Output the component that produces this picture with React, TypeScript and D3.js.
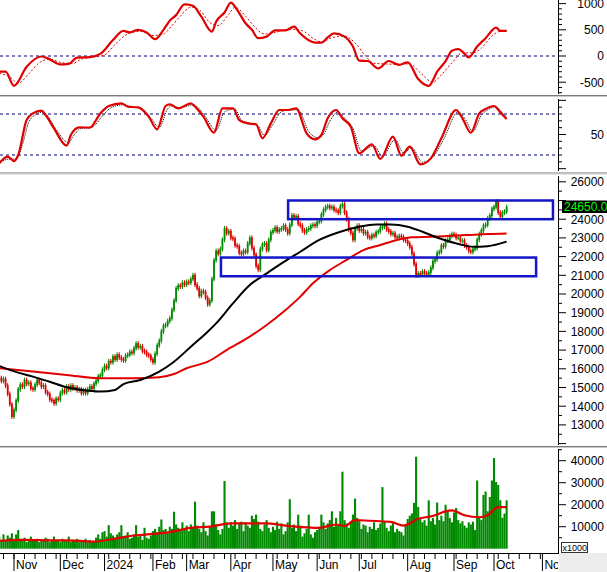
import React from "react";
import * as d3 from "d3";

// ---------- DATA ----------
// daily closes (bar index 0 = late Oct 2023)
const closes = [
  15500,15350,15450,15100,14650,14100,13450,13800,14300,14900,
  15150,15050,15400,15200,15250,14950,14900,15150,15400,15250,
  15050,15100,14750,14650,14350,14300,14150,14400,14350,14700,
  14850,14750,15050,14900,15100,14950,15000,14850,14900,14700,
  14850,14700,14900,15050,14950,15200,15350,15600,15650,15950,
  16150,16050,16400,16350,16650,16500,16750,16600,16500,16450,
  16700,16750,16900,16850,17100,17350,17150,17200,16950,16900,
  16750,16700,16500,16350,16800,17250,17500,18000,18300,18350,
  18550,18700,19150,19650,20300,20450,20400,20600,20500,20650,
  20600,20800,21000,20500,20300,19900,20150,20100,19800,19450,
  19650,20800,21800,22300,22150,22400,22900,23500,23250,23350,
  23000,22950,22600,22550,22200,22150,22300,22250,22700,23000,
  22450,22100,21500,21300,22400,22650,22700,22350,22900,23300,
  23400,23550,23350,23450,23500,23650,23450,23250,23700,24200,
  24100,24150,23750,23650,23400,23300,23450,23500,23650,23700,
  23650,23850,23900,24250,24500,24650,24700,24600,24650,24500,
  24450,24350,24700,24800,24350,24000,23450,23250,22900,23500,
  23650,23400,23450,23250,23300,23050,23000,23150,23100,23300,
  23350,23550,23600,23750,23450,23350,23200,23250,23050,23000,
  23100,23050,22900,22850,22700,22500,22150,21600,21000,21100,
  21050,21200,21100,21050,21150,21400,21750,21850,22200,22250,
  22600,22550,22850,22900,23100,23200,23150,23000,23000,22850,
  22850,22600,22500,22300,22250,22400,22450,22900,23200,23400,
  23650,23700,24050,24200,24550,24650,24950,24350,24150,24350,
  24400,24650,
];

const volumes = [
  5500,4000,6500,3500,6000,5000,7000,4500,6500,8500,
  4500,3500,5000,3000,4000,5500,3500,4000,4500,3000,
  4000,3500,5000,4500,3000,4000,5500,3500,4000,3000,
  4500,3500,4000,5500,3000,4000,3500,4500,3000,4000,
  3500,4500,3000,4000,3500,3000,5000,6500,4500,7500,
  8000,5500,10700,7000,6000,5000,6500,7500,10700,5500,
  6000,7500,4500,5000,6500,10700,5500,6000,4000,9500,
  5000,4500,6000,8000,9000,7500,10000,13300,8500,9000,
  7500,10000,9000,16800,11000,9500,8500,12000,9000,10500,
  8000,11000,9500,21400,10500,9000,7500,12000,8000,6000,
  10000,17000,17000,11000,8500,6500,9000,30800,12000,9500,
  12000,10500,13000,9000,11500,12300,8000,12000,10500,9500,
  15000,13500,15500,12300,9000,8000,11000,13000,9500,7500,
  10000,8500,12300,9000,11500,6500,8000,12000,22500,9500,
  11000,8000,15500,10500,5500,7000,9000,15500,6500,5000,
  7500,8500,10000,15500,12000,9000,11500,13000,17000,10000,
  14000,10500,17000,35000,13000,11500,9500,12000,15500,22800,
  14000,12500,9000,11000,10500,7500,10000,9000,12000,8500,
  9500,11500,28000,12500,9500,8000,10500,12000,7500,9000,
  8000,7500,6000,11000,13500,15000,16000,20800,41800,19000,
  14000,12000,13000,10500,22000,12500,14000,11000,21000,13000,
  15000,12500,20000,17000,14000,12000,16500,18500,13000,11500,
  12500,10500,9500,12000,11000,12300,8500,31000,14500,13000,
  24400,26000,17000,23500,31000,41200,30300,29000,22000,14000,
  16000,22000,
];

// [bar index, value]
const maBlack = [
  [0,16150],[6,15900],[16,15580],[24,15310],[32,15010],[42,14830],[48,14780],[55,14870],
  [59,15180],[67,15400],[76,15850],[83,16380],[91,17180],[99,17980],[103,18430],[111,19500],
  [119,20480],[127,21100],[135,21700],[143,22260],[152,22890],[162,23330],[171,23600],
  [179,23720],[186,23720],[194,23600],[201,23330],[209,22980],[219,22650],[225,22530],
  [232,22560],[241,22800],
];
const maRed = [
  [0,16030],[16,15850],[32,15670],[48,15490],[64,15490],[76,15550],[83,15720],[89,16030],
  [99,16380],[108,17000],[119,17720],[127,18340],[135,19050],[143,19860],[149,20570],
  [157,21280],[165,21820],[173,22350],[181,22620],[189,22890],[196,23030],[205,23060],
  [213,23100],[222,23150],[232,23210],[241,23240],
];
const volMA = [
  [0,3600],[12,4000],[24,3800],[36,3700],[45,3200],[55,4600],[64,6000],[73,6700],[81,7500],
  [91,9500],[100,10000],[110,11500],[118,11500],[126,11500],[138,10300],[152,9500],
  [160,11000],[164,10300],[169,13000],[176,12700],[186,12200],[192,10500],[199,13600],
  [205,14700],[215,17400],[221,15200],[228,14300],[232,15200],[237,18900],[241,18900],
];
const macd = [
  [0,-300],[3,-300],[7,-570],[13,-205],[20,-10],[23,-45],[29,-160],[33,-150],[37,-30],
  [43,-20],[48,40],[54,305],[59,480],[62,450],[66,500],[70,450],[74,320],[78,500],[81,675],
  [84,780],[88,985],[92,960],[96,750],[101,465],[103,655],[107,830],[110,1020],[113,880],
  [117,625],[120,500],[123,340],[127,370],[131,490],[136,490],[140,560],[143,430],[147,300],
  [150,255],[153,255],[156,355],[159,430],[164,370],[168,180],[171,-90],[175,-95],[180,-235],
  [185,-95],[190,-170],[194,-120],[199,-440],[204,-570],[208,-300],[212,-100],[215,100],
  [218,130],[220,85],[223,-25],[227,180],[231,340],[236,540],[238,480],[241,480],
];
const macdSignal = [
  [0,-330],[5,-400],[9,-520],[14,-340],[19,-130],[24,-60],[30,-130],[35,-140],[39,-60],
  [45,-20],[50,20],[55,220],[61,420],[67,470],[73,390],[78,420],[82,580],[86,760],[91,930],
  [95,880],[100,640],[104,580],[109,800],[112,930],[117,760],[121,570],[126,420],[131,450],
  [138,510],[144,480],[149,340],[153,270],[158,350],[164,380],[169,250],[174,0],[178,-140],
  [183,-150],[189,-160],[195,-150],[200,-320],[206,-500],[210,-360],[215,-130],[220,60],
  [225,60],[229,150],[234,380],[238,470],[241,470],
];
const rsi = [
  [0,21.9],[4,28.4],[7,24.1],[9,30],[13,64.1],[16,70.6],[20,73.3],[22,69],[26,56],[32,39.1],
  [34,49.5],[38,57],[43,56.7],[48,70.6],[52,77.8],[58,80.4],[61,77.2],[66,76.5],[71,67.4],
  [75,55],[79,77.8],[81,79.4],[85,75.5],[91,80.4],[93,77.2],[97,67.4],[102,51.8],[106,75.5],
  [111,75.5],[114,64.1],[118,60.9],[122,60],[125,46.3],[129,60.9],[133,73.9],[137,73.9],
  [141,75.5],[146,51.1],[150,45.3],[153,49.5],[156,65.8],[160,73.9],[163,65.8],[167,57.6],
  [171,31.6],[177,40.4],[181,26.1],[187,47.9],[191,29.4],[195,38.1],[200,20.9],[205,26.7],
  [210,46.3],[217,73.9],[220,65.8],[224,51.8],[228,70.6],[231,74.9],[235,77.8],[238,71.6],
  [241,65.1],
];
const rsiSignal = [
  [0,23],[5,26],[8,26],[11,40],[14,62],[17,69],[21,72],[23,68],[27,55],[33,42],[35,48],
  [39,56],[44,57],[49,68],[53,76],[59,79],[62,77],[67,76],[72,66],[76,57],[80,75],[82,78],
  [86,76],[92,79],[94,77],[98,67],[103,54],[107,72],[112,75],[115,64],[119,61],[123,58],
  [126,49],[130,60],[134,72],[138,74],[142,74],[147,53],[151,47],[154,50],[157,63],[161,72],
  [164,66],[168,56],[172,34],[178,39],[182,29],[188,45],[192,32],[196,37],[201,23],[206,28],
  [211,45],[218,72],[221,66],[225,53],[229,69],[232,74],[236,77],[239,71],[241,67],
];

// support / resistance zones: [start bar, end bar, top price, bottom price]
const zones = [
  [137.2, 263, 25000, 24000],
  [105.3, 255, 21950, 20950],
];

const monthNames = ["Nov","Dec","2024","Feb","Mar","Apr","May","Jun","Jul","Aug","Sep","Oct","Nov"];
const monthDays = [22,21,23,16,21,20,21,20,23,22,19,23,22];
const firstMonthBar = 7;
const lastPriceLabel = "24650.00";

const macdTicks = [1000, 500, 0, -500];
// 25000 sits behind the last-price box, as in the reference
const priceTicks = [13000,14000,15000,16000,17000,18000,19000,20000,21000,22000,23000,24000,26000];
const volTicks = [10000, 20000, 30000, 40000];

// ---------- CHART ----------
const W = 607, H = 572, AX = 558;
const GREEN = "#008a00", RED = "#e00000", NAVY = "#000080";
const FONT = "'Liberation Sans', Arial, sans-serif";

export default function App() {
  const x = d3.scaleLinear().domain([7, 235]).range([14, 494]);
  const yM = d3.scaleLinear().domain([0, 500]).range([56, 29.8]);
  const yR = d3.scaleLinear().domain([50, 70]).range([134.5, 114]);
  const yP = d3.scaleLinear().domain([20000, 26000]).range([294, 181.8]);
  const yV = d3.scaleLinear().domain([0, 40000]).range([548.7, 460.7]);

  const lineOf = (ys: any, smooth = false) =>
    d3.line<number[]>().x((d) => x(d[0])).y((d) => ys(d[1])).curve(smooth ? d3.curveMonotoneX : d3.curveLinear);

  const monthStarts: number[] = [];
  let acc = firstMonthBar;
  monthDays.forEach((d) => { monthStarts.push(acc); acc += d; });
  const weekTicks: number[] = d3.range(2, 262, 5);

  const sep = (y: number, k: string) => (
    <g key={k}>
      <line x1={0} x2={W} y1={y + 0.5} y2={y + 0.5} stroke="#7a7a7a" strokeWidth={1} />
      <line x1={0} x2={W} y1={y + 1.5} y2={y + 1.5} stroke="#c8c8c8" strokeWidth={1} />
    </g>
  );

  const tick = (y: number, major: boolean, k: string) => (
    <line key={k} x1={AX} x2={AX + (major ? 8 : 4)} y1={y} y2={y} stroke="#000" strokeWidth={1} />
  );
  const label = (y: number, t: string, k: string) => (
    <text key={k} x={604} y={y} dy="0.36em" textAnchor="end" fontSize={12} fontFamily={FONT} fill="#000">{t}</text>
  );

  const macdMinor = d3.range(-700, 1001, 100);
  const rsiMinor = d3.range(0, 13).map((k) => 10 + k * (20 / 3)).filter((v) => yR(v) >= 98 && yR(v) <= 171);
  const isRsiMajor = (v: number) => {
    const r = Math.abs(v - 50) / (100 / 3);
    return Math.abs(r - Math.round(r)) < 0.01;
  };
  const priceMinor = d3.range(12000, 26001, 500);
  const volMinor = d3.range(5000, 45001, 5000);

  return (
    <svg width={W} height={H} style={{ position: "absolute", left: 0, top: 0, background: "#fff" }}>
      <defs>
        <clipPath id="c1"><rect x={0} y={0} width={AX} height={95} /></clipPath>
        <clipPath id="c2"><rect x={0} y={97} width={AX} height={75} /></clipPath>
        <clipPath id="c3"><rect x={0} y={175} width={AX} height={271} /></clipPath>
        <clipPath id="c4"><rect x={0} y={448} width={AX} height={105} /></clipPath>
        <clipPath id="cx"><rect x={0} y={553} width={AX} height={19} /></clipPath>
      </defs>
      <rect x={0} y={0} width={W} height={H} fill="#fff" />

      {/* Panel 1: oscillator */}
      <g clipPath="url(#c1)">
        <line x1={0} x2={AX} y1={yM(0)} y2={yM(0)} stroke={NAVY} strokeDasharray="3,3" strokeWidth={1} />
        <path d={lineOf(yM, true)(macdSignal as any) || ""} fill="none" stroke={RED} strokeWidth={1} strokeDasharray="2,2" />
        <path d={lineOf(yM, true)(macd as any) || ""} fill="none" stroke={RED} strokeWidth={2.2} strokeLinejoin="round" />
      </g>

      {/* Panel 2: RSI */}
      <g clipPath="url(#c2)">
        <line x1={0} x2={AX} y1={yR(70)} y2={yR(70)} stroke={NAVY} strokeDasharray="3,3" strokeWidth={1} />
        <line x1={0} x2={AX} y1={yR(30)} y2={yR(30)} stroke={NAVY} strokeDasharray="3,3" strokeWidth={1} />
        <path d={lineOf(yR, true)(rsiSignal as any) || ""} fill="none" stroke="#000" strokeWidth={1} strokeDasharray="1,1" />
        <path d={lineOf(yR, true)(rsi as any) || ""} fill="none" stroke={RED} strokeWidth={2.2} strokeLinejoin="round" />
      </g>

      {/* Panel 3: price */}
      <g clipPath="url(#c3)">
        {closes.map((c, i) => {
          const o = i === 0 ? c : closes[i - 1];
          const up = c >= o;
          const y1 = yP(Math.max(o, c));
          const y2 = yP(Math.min(o, c));
          const col = up ? GREEN : RED;
          return (
            <g key={"k" + i}>
              <line x1={x(i)} x2={x(i)} y1={y1 - 2.5} y2={y2 + 2.5} stroke={col} strokeWidth={1} />
              <rect x={x(i) - 0.9} y={y1 - 0.5} width={1.8} height={Math.max(1.5, y2 - y1 + 1)} fill={col} />
            </g>
          );
        })}
        <path d={lineOf(yP, true)(maRed as any) || ""} fill="none" stroke={RED} strokeWidth={2} />
        <path d={lineOf(yP, true)(maBlack as any) || ""} fill="none" stroke="#000" strokeWidth={2} />
        {zones.map((z, k) => (
          <rect key={"z" + k} x={x(z[0])} y={yP(z[2])} width={x(z[1]) - x(z[0])} height={yP(z[3]) - yP(z[2])}
            fill="none" stroke="#1414c8" strokeWidth={2.5} />
        ))}
      </g>

      {/* Panel 4: volume */}
      <g clipPath="url(#c4)">
        {volumes.map((v, i) => (
          <rect key={"v" + i} x={x(i) - 1.05} y={yV(v)} width={2.1} height={yV(0) - yV(v)} fill={GREEN} />
        ))}
        <path d={lineOf(yV, true)(volMA as any) || ""} fill="none" stroke={RED} strokeWidth={2.2} />
      </g>

      {sep(95, "s1")}
      {sep(172.5, "s2")}
      {sep(446, "s3")}

      <line x1={AX + 0.5} x2={AX + 0.5} y1={0} y2={94} stroke="#000" />
      <line x1={AX + 0.5} x2={AX + 0.5} y1={99} y2={171} stroke="#000" />
      <line x1={AX + 0.5} x2={AX + 0.5} y1={176} y2={445} stroke="#000" />
      <line x1={AX + 0.5} x2={AX + 0.5} y1={449} y2={553} stroke="#000" />

      {macdMinor.map((v) => tick(yM(v), macdTicks.includes(v), "mt" + v))}
      {macdTicks.map((v) => label(yM(v), String(v), "ml" + v))}

      {rsiMinor.map((v, k) => tick(yR(v), isRsiMajor(v), "rt" + k))}
      {label(yR(50), "50", "rl")}

      {priceMinor.map((v) => tick(yP(v), v % 1000 === 0, "pt" + v))}
      {priceTicks.map((v) => label(yP(v), String(v), "pl" + v))}

      {volMinor.map((v) => tick(yV(v), v % 10000 === 0, "vt" + v))}
      {volTicks.map((v) => label(yV(v), String(v), "vl" + v))}

      {/* last price box */}
      <rect x={562} y={200.5} width={W - 562} height={12.5} fill="#000" />
      <text x={564} y={211} fontSize={12} fontFamily={FONT} fill="#00ff00">{lastPriceLabel}</text>

      {/* x1000 box */}
      <rect x={561.5} y={542.5} width={26} height={10} fill="#fff" stroke="#333" strokeWidth={1} />
      <text x={562.5} y={550.5} fontSize={9} fontFamily={FONT} fill="#000">x1000</text>

      {/* x axis */}
      <rect x={AX + 1} y={553} width={W - AX - 1} height={H - 553} fill="#ececec" />
      <line x1={0} x2={AX + 1} y1={553.5} y2={553.5} stroke="#000" />
      <g clipPath="url(#cx)">
        {weekTicks.map((b) => (
          <line key={"w" + b} x1={x(b)} x2={x(b)} y1={553} y2={559} stroke="#000" />
        ))}
        {monthStarts.map((b, k) => (
          <g key={"m" + k}>
            <line x1={x(b)} x2={x(b)} y1={553} y2={571} stroke="#000" />
            <text x={x(b) + 2} y={569} fontSize={12} fontFamily={FONT} fill="#000">{monthNames[k]}</text>
          </g>
        ))}
      </g>
    </svg>
  );
}
